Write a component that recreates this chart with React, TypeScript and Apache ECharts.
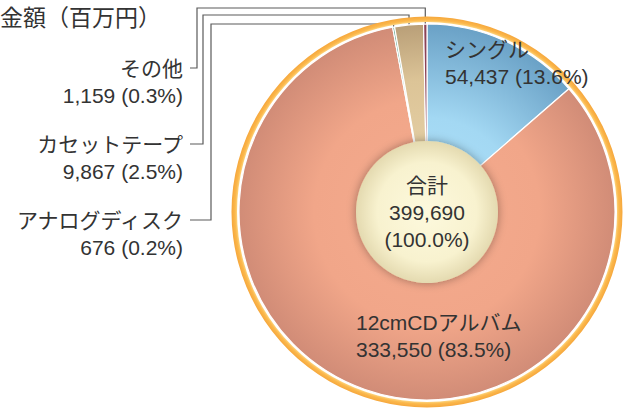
import React, { useEffect, useRef } from 'react';
import * as echarts from 'echarts';

const titleText = '金額（百万円）';
const categories = ['シングル', '12cmCDアルバム', 'アナログディスク', 'カセットテープ', 'その他'];
const values = [54437, 333550, 676, 9867, 1159];
const totalName = '合計';
const totalValue = 399690;

const FONT = '"Liberation Sans", "Noto Sans CJK JP", sans-serif';
const TEXT = '#333333';

const CX = 427;
const CY = 212;
const R = 188;

const fmt = (v: number) => v.toLocaleString('en-US');
const pct = (v: number) => ((v / totalValue) * 100).toFixed(1);

// label placement (layout only)
const labelPlace = [
  { x: 445, y: 63, align: 'left' },
  { x: 356, y: 336, align: 'left' },
  { x: 183, y: 233.5, align: 'right', bendX: 211, topY: 24 },
  { x: 183, y: 157.5, align: 'right', bendX: 203, topY: 15 },
  { x: 183, y: 81.5, align: 'right', bendX: 197, topY: 8 },
];
const LINE_H = 27;

const radial = (stops: [number, string][]) => ({
  type: 'radial',
  x: CX,
  y: CY,
  r: R,
  global: true,
  colorStops: stops.map(([offset, color]) => ({ offset, color })),
});

const sliceColors = [
  radial([[0, '#b0e2fa'], [0.5, '#a3d8f3'], [1, '#6aa1c6']]),
  radial([[0, '#f5ab8e'], [0.6, '#f1a689'], [1, '#d18c77']]),
  '#5f9f8a',
  radial([[0, '#ead6ad'], [0.7, '#dcc497'], [1, '#b99f78']]),
  '#8c4257',
];

export default function App() {
  const ref = useRef<HTMLDivElement>(null);
  useEffect(() => {
    document.body.style.margin = '0';
    const chart = echarts.init(ref.current!, undefined, { renderer: 'svg' });
    const sum = values.reduce((a, b) => a + b, 0);
    const midAngles: number[] = [];
    let acc = 0;
    values.forEach((v) => {
      midAngles.push(((acc + v / 2) / sum) * Math.PI * 2);
      acc += v;
    });

    const data = categories.map((name, i) => ({
      name,
      value: values[i],
      itemStyle: { color: sliceColors[i] as any },
      labelLine: { show: i >= 2 },
    }));

    chart.setOption({
      animation: false,
      title: {
        text: titleText,
        left: 0,
        top: 6,
        padding: 0,
        textStyle: { fontSize: 23, fontWeight: 'normal', color: TEXT, fontFamily: FONT },
      },
      series: [
        {
          type: 'pie',
          silent: true,
          center: [CX, CY],
          radius: [R + 2, R + 7.5],
          label: { show: false },
          labelLine: { show: false },
          itemStyle: {
            color: {
              type: 'radial', x: CX, y: CY, r: R + 7.5, global: true,
              colorStops: [
                { offset: 0, color: '#ffe08a' },
                { offset: (R + 2) / (R + 7.5), color: '#fdd27a' },
                { offset: (R + 4) / (R + 7.5), color: '#fbb84c' },
                { offset: 1, color: '#f6a73c' },
              ],
            },
          },
          data: [{ value: 1 }],
        },
        {
          type: 'pie',
          silent: true,
          center: [CX, CY],
          radius: [0, R],
          startAngle: 90,
          clockwise: true,
          avoidLabelOverlap: false,
          itemStyle: { borderColor: '#ffffff', borderWidth: 1.2 },
          label: {
            show: true,
            position: 'outside',
            color: TEXT,
            fontFamily: FONT,
            fontSize: 21,
            lineHeight: LINE_H,
            formatter: (p: any) => `${p.name}\n${fmt(p.value)} (${pct(p.value)}%)`,
          },
          labelLine: {
            show: true,
            lineStyle: { color: '#5a5a5a', width: 1.2 },
          },
          labelLayout: (p: any) => {
            const i = p.dataIndex;
            const lp: any = labelPlace[i];
            const out: any = {
              x: lp.x,
              y: lp.y,
              align: lp.align,
              verticalAlign: 'middle',
            };
            if (lp.bendX != null) {
              const a = midAngles[i];
              const sx = CX + R * Math.sin(a);
              const sy = CY - R * Math.cos(a);
              const lineY = lp.y - LINE_H / 2;
              out.labelLinePoints = [
                [sx, sy],
                [sx, lp.topY],
                [lp.bendX, lp.topY],
                [lp.bendX, lineY],
                [190, lineY],
              ];
            }
            return out;
          },
          data,
        },
        {
          type: 'pie',
          silent: true,
          center: [CX, CY],
          radius: [0, 71],
          label: {
            show: true,
            position: 'center',
            color: TEXT,
            fontFamily: FONT,
            fontSize: 21,
            lineHeight: 27,
            formatter: () => `${totalName}\n${fmt(totalValue)}\n(${(100).toFixed(1)}%)`,
          },
          labelLine: { show: false },
          itemStyle: {
            color: {
              type: 'radial', x: 0.5, y: 0.5, r: 0.5,
              colorStops: [
                { offset: 0, color: '#fdf9dd' },
                { offset: 0.7, color: '#f8f2cf' },
                { offset: 1, color: '#e4dab0' },
              ],
            },
            shadowBlur: 10,
            shadowColor: 'rgba(0,0,0,0.35)',
          },
          data: [{ value: totalValue, name: totalName }],
        },
      ],
    });
    return () => chart.dispose();
  }, []);
  return <div ref={ref} style={{ width: 627, height: 410 }} />;
}
